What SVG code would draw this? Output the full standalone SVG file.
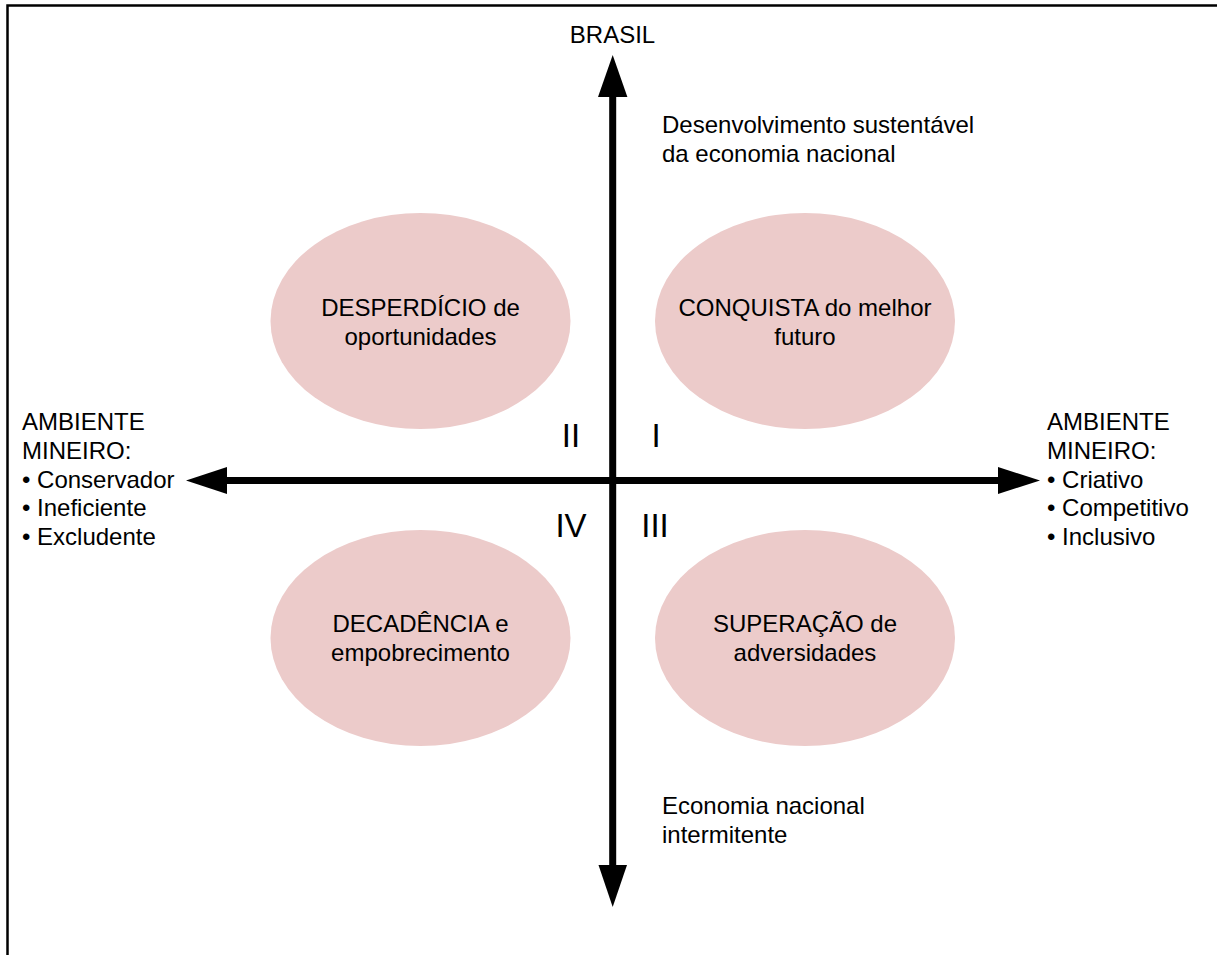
<svg xmlns="http://www.w3.org/2000/svg" width="1217" height="955" viewBox="0 0 1217 955">
<style>
text{font-family:"Liberation Sans",Arial,Helvetica,sans-serif;fill:#000}
.t{font-size:24px}
.c{text-anchor:middle}
.n{font-size:33px;text-anchor:middle}
.ell{fill:#eccbca}
.ax{fill:#000}
</style>
<rect x="0" y="0" width="1217" height="955" fill="#fff"/>
<path d="M7.5 955 V5.5 H1217" fill="none" stroke="#000" stroke-width="2.5"/>
<g id="q2"><ellipse class="ell" cx="420.5" cy="321" rx="150" ry="108"/><text class="t c" x="420.5" y="316">DESPERDÍCIO de</text><text class="t c" x="420.5" y="345">oportunidades</text></g>
<g id="q1"><ellipse class="ell" cx="805" cy="321" rx="150" ry="108"/><text class="t c" x="805" y="316">CONQUISTA do melhor</text><text class="t c" x="805" y="345">futuro</text></g>
<g id="q4"><ellipse class="ell" cx="420.5" cy="638" rx="150" ry="108"/><text class="t c" x="420.5" y="632">DECADÊNCIA e</text><text class="t c" x="420.5" y="661">empobrecimento</text></g>
<g id="q3"><ellipse class="ell" cx="805" cy="638" rx="150" ry="108"/><text class="t c" x="805" y="632">SUPERAÇÃO de</text><text class="t c" x="805" y="661">adversidades</text></g>
<g id="connectors">
<rect class="ax" x="609.2" y="95" width="7" height="772"/>
<polygon class="ax" points="612.7,55 598,97 627.4,97"/>
<polygon class="ax" points="612.7,907 598.5,865 627,865"/>
<rect class="ax" x="225" y="477" width="775" height="7"/>
<polygon class="ax" points="186,480.5 227,467 227,494"/>
<polygon class="ax" points="1040,480.5 998,467 998,494"/>
</g>
<g id="labels">
<text class="t c" x="612.5" y="43">BRASIL</text>
<text class="t" x="662" y="133">Desenvolvimento sustentável</text>
<text class="t" x="662" y="162">da economia nacional</text>
<text class="t" x="662" y="814">Economia nacional</text>
<text class="t" x="662" y="843">intermitente</text>
<text class="n" x="571" y="447">II</text>
<text class="n" x="656" y="447">I</text>
<text class="n" x="571" y="537">IV</text>
<text class="n" x="655" y="537">III</text>
</g>
<g id="left">
<text class="t" x="22" y="430">AMBIENTE</text>
<text class="t" x="22" y="459">MINEIRO:</text>
<text class="t" x="22" y="488">• Conservador</text>
<text class="t" x="22" y="516">• Ineficiente</text>
<text class="t" x="22" y="545">• Excludente</text>
</g>
<g id="right">
<text class="t" x="1047" y="430">AMBIENTE</text>
<text class="t" x="1047" y="459">MINEIRO:</text>
<text class="t" x="1047" y="488">• Criativo</text>
<text class="t" x="1047" y="516">• Competitivo</text>
<text class="t" x="1047" y="545">• Inclusivo</text>
</g>
</svg>
